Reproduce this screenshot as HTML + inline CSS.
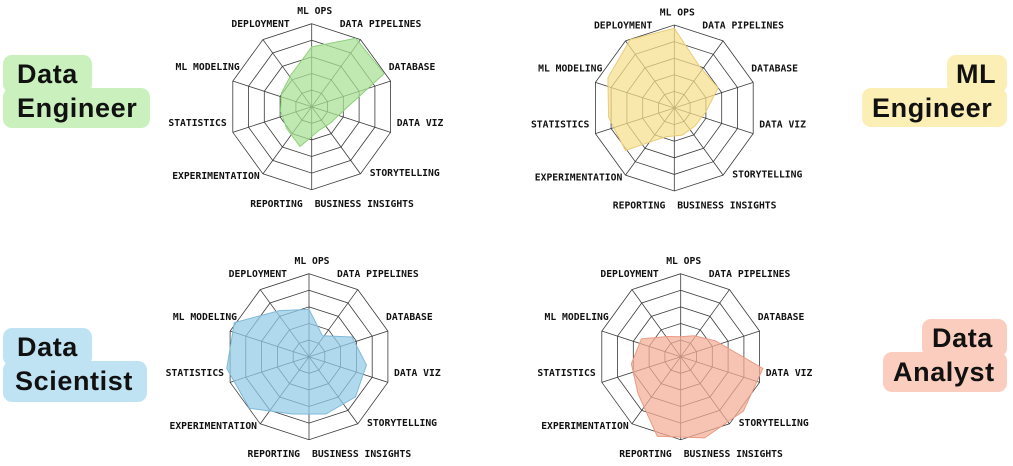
<!DOCTYPE html>
<html><head><meta charset="utf-8">
<style>
body{margin:0;width:1013px;height:466px;background:#fff;overflow:hidden;position:relative;font-family:"Liberation Sans",sans-serif}
.box{position:absolute;border-radius:9px;font-weight:bold;font-size:27px;color:#111;line-height:33px;letter-spacing:0.6px;box-sizing:border-box}
svg{position:absolute;left:0;top:0}
svg text{font-family:"DejaVu Sans Mono","Liberation Mono",monospace;font-weight:bold;font-size:9.7px;fill:#111}
</style></head><body>
<div class="box" style="left:3px;top:55px;width:89px;height:38px;background:#c9f0bd;padding:3px 0 0 14px">Data</div>
<div class="box" style="left:3px;top:88px;width:147px;height:40px;background:#c9f0bd;padding:4px 0 0 14px">Engineer</div>
<div class="box" style="left:947px;top:55px;width:60px;height:38px;background:#fcefb6;padding:3px 0 0 9px">ML</div>
<div class="box" style="left:862px;top:88px;width:145px;height:39px;background:#fcefb6;padding:4px 0 0 10px">Engineer</div>
<div class="box" style="left:3px;top:328px;width:89px;height:38px;background:#c0e3f4;padding:3px 0 0 14px">Data</div>
<div class="box" style="left:3px;top:361px;width:144px;height:41px;background:#c0e3f4;padding:4px 0 0 12px">Scientist</div>
<div class="box" style="left:922px;top:319px;width:85px;height:38px;background:#fbcdbe;padding:3px 0 0 10px">Data</div>
<div class="box" style="left:883px;top:352px;width:124px;height:40px;background:#fbcdbe;padding:4px 0 0 10px">Analyst</div>
<svg id="chart" width="1013" height="466"></svg>
<script>
const categories = ["ML OPS","DATA PIPELINES","DATABASE","DATA VIZ","STORYTELLING","BUSINESS INSIGHTS","REPORTING","EXPERIMENTATION","STATISTICS","ML MODELING","DEPLOYMENT"];
const dataEngineer = [3.6,4.9,4.8,1.9,1.5,1.5,2.5,2.0,1.9,2.0,2.3];
const mlEngineer = [4.8,2.9,2.9,1.9,1.65,1.7,1.8,3.9,4.0,4.4,4.9];
const dataScientist = [2.85,1.5,2.85,3.5,3.7,3.6,3.6,4.75,5.0,4.95,3.3];
const dataAnalyst = [1.2,1.5,2.3,5.0,5.0,5.1,5.0,3.4,3.0,2.6,1.45];
const maxValue = 5;

const NS="http://www.w3.org/2000/svg";
const svg=document.getElementById('chart');
const R=83;
const labelOff=[[3,-96,'middle'],[28,-83,'start'],[77,-40,'start'],[85,16,'start'],[58,66,'start'],[3,97,'start'],[-9,97,'end'],[-52,69,'end'],[-85,16,'end'],[-72,-40,'end'],[-22,-83,'end']];
function rScale(v){return v/maxValue*R;}
function angle(i,n){return i*2*Math.PI/n;}
function mk(tag,attrs){const e=document.createElementNS(NS,tag);for(const k in attrs)e.setAttribute(k,attrs[k]);svg.appendChild(e);return e;}
function radar(cx,cy,vals,fill,stroke,name){
  const g=[];
  for(let k=1;k<=5;k++){
    const pts=[];
    for(let i=0;i<10;i++){const a=angle(i,10);pts.push((cx+k*R/5*Math.sin(a)).toFixed(1)+','+(cy-k*R/5*Math.cos(a)).toFixed(1));}
    const p=mk('polygon',{points:pts.join(' '),fill:'none',stroke:'#3a3a3a','stroke-width':0.8});
    
    
  }
  for(let i=0;i<10;i++){const a=angle(i,10);
    const l=mk('line',{x1:cx,y1:cy,x2:cx+R*Math.sin(a),y2:cy-R*Math.cos(a),stroke:'#3a3a3a','stroke-width':0.8});
    
    
  }
  const pts=vals.map((v,i)=>{const a=angle(i,vals.length);return (cx+rScale(v)*Math.sin(a)).toFixed(1)+','+(cy-rScale(v)*Math.cos(a)).toFixed(1);});
  const poly=mk('polygon',{points:pts.join(' '),fill:fill,'fill-opacity':0.72,stroke:stroke,'stroke-width':1});
  
  
  categories.forEach((c,i)=>{
    const o=labelOff[i];
    const t=mk('text',{x:cx+o[0],y:cy+o[1]+3.5,'text-anchor':o[2]});
    t.textContent=c;
    
    
  });
}
radar(311.7,106.7,dataEngineer,'#a8e094','#8fcf7c','data-engineer');
radar(674.3,108,mlEngineer,'#f6df8c','#e8cd78','ml-engineer');
radar(309,356.7,dataScientist,'#93cbe6','#7fbad8','data-scientist');
radar(680.7,356.7,dataAnalyst,'#f4ad97','#e99a83','data-analyst');
</script>
</body></html>
